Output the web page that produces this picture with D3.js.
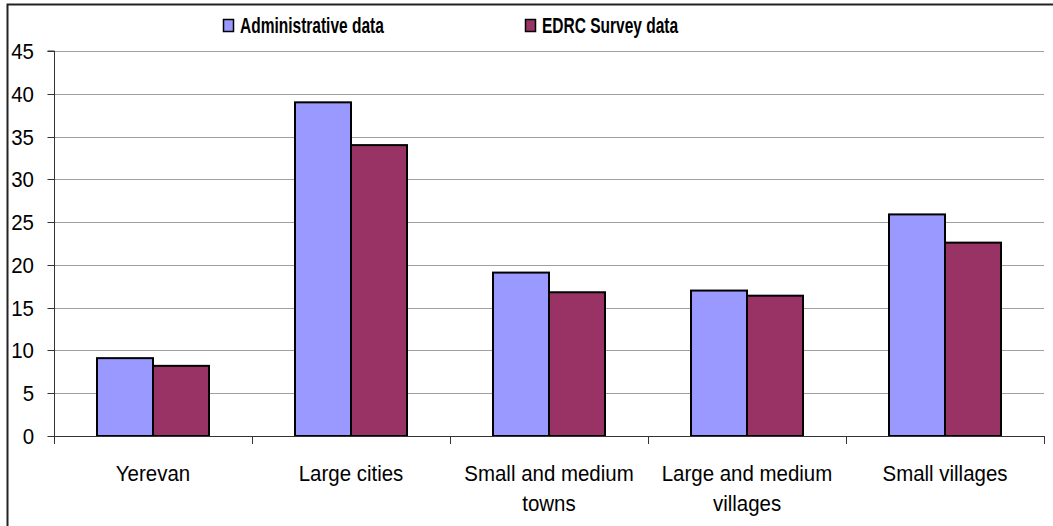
<!DOCTYPE html>
<html>
<head>
<meta charset="utf-8">
<script src="https://cdn.jsdelivr.net/npm/d3@7"></script>
<style>
  html, body { margin: 0; padding: 0; background: #fff; }
  svg { display: block; }
  text { font-family: "Liberation Sans", Arial, sans-serif; fill: #000; }
</style>
</head>
<body>
<svg id="chart" width="1053" height="526"></svg>
<script>
const categories = [["Yerevan"], ["Large cities"], ["Small and medium", "towns"], ["Large and medium", "villages"], ["Small villages"]];
const seriesNames = ["Administrative data", "EDRC Survey data"];
const adminValues = [9.1, 39.0, 19.1, 17.0, 25.9];
const surveyValues = [8.2, 34.0, 16.8, 16.4, 22.6];
const yTicks = [0, 5, 10, 15, 20, 25, 30, 35, 40, 45];
const colors = ["#9999ff", "#993366"];

const svg = d3.select("#chart");
const m = { left: 54, right: 1044, top: 51, bottom: 436 };
const SX = 0.93;     // horizontal condensing for regular text
const SXB = 0.705;   // horizontal condensing for bold legend text
const FS = 22;

// outer frame (only top and left edges fall inside the picture)
svg.append("rect").attr("x", 7.5).attr("y", 4.5).attr("width", 1100).attr("height", 600)
  .attr("fill", "none").attr("stroke", "#222").attr("stroke-width", 2);

const x0 = d3.scaleBand().domain(d3.range(categories.length)).range([m.left, m.right]).padding(0);
const x1 = d3.scaleBand().domain([0, 1]).range([0, x0.bandwidth()]).paddingOuter(0.768).paddingInner(0);
const y = d3.scaleLinear().domain([0, 45]).range([m.bottom, m.top]);

// gridlines
svg.append("g").selectAll("line").data(yTicks.filter(d => d > 0)).join("line")
  .attr("x1", m.left).attr("x2", m.right)
  .attr("y1", d => Math.round(y(d)) + 0.5).attr("y2", d => Math.round(y(d)) + 0.5)
  .attr("stroke", "#a0a0a0").attr("stroke-width", 1);

// bars
const data = categories.map((c, i) => [adminValues[i], surveyValues[i]]);
const groups = svg.append("g").selectAll("g").data(data).join("g")
  .attr("transform", (d, i) => `translate(${x0(i)},0)`);
groups.selectAll("rect").data(d => d.map((v, j) => ({ v, j }))).join("rect")
  .attr("x", d => x1(d.j))
  .attr("y", d => y(d.v))
  .attr("width", x1.bandwidth())
  .attr("height", d => y(0) - y(d.v))
  .attr("fill", d => colors[d.j])
  .attr("stroke", "#000").attr("stroke-width", 2);

// y axis
const yAxis = d3.axisLeft(y).tickValues(yTicks).tickSize(7).tickPadding(13).tickFormat(d3.format("d"));
const gy = svg.append("g").attr("transform", `translate(${m.left + 0.5},0)`).call(yAxis);
gy.select(".domain").attr("stroke", "#333").attr("d", `M-7,${m.top}H0V${m.bottom}`);
gy.selectAll(".tick line").attr("stroke", "#333");
gy.selectAll(".tick").attr("transform", d => `translate(0,${Math.round(y(d)) + 0.5})`);
gy.selectAll(".tick text")
  .attr("font-size", FS).attr("font-family", null).attr("fill", "#000")
  .attr("x", -20.5 / SX).attr("dy", "0.36em")
  .attr("transform", `scale(${SX},1)`);

// x axis
const xTickPos = d3.range(categories.length + 1).map(i => m.left + i * x0.bandwidth());
const gx = svg.append("g");
gx.append("line").attr("x1", m.left).attr("x2", m.right)
  .attr("y1", m.bottom + 0.5).attr("y2", m.bottom + 0.5).attr("stroke", "#333");
gx.selectAll("line.t").data(xTickPos).join("line").attr("class", "t")
  .attr("x1", d => Math.round(d) + 0.5).attr("x2", d => Math.round(d) + 0.5)
  .attr("y1", m.bottom).attr("y2", m.bottom + 8).attr("stroke", "#333");
gx.selectAll("text").data(categories).join("text")
  .attr("transform", (d, i) => `translate(${x0(i) + x0.bandwidth() / 2},481) scale(${SX},1)`)
  .attr("text-anchor", "middle").attr("font-size", FS)
  .selectAll("tspan").data(d => d).join("tspan")
  .attr("x", 0)
  .attr("dy", (d, i) => i === 0 ? 0 : 30)
  .text(d => d);

// legend
const legendX = [223, 525];
const lg = svg.append("g").selectAll("g").data(seriesNames).join("g")
  .attr("transform", (d, i) => `translate(${legendX[i]},0)`);
lg.append("rect").attr("x", 0.5).attr("y", 19.5).attr("width", 10).attr("height", 12)
  .attr("fill", (d, i) => colors[i]).attr("stroke", "#000").attr("stroke-width", 1.5);
lg.append("text")
  .attr("transform", `translate(17,33) scale(${SXB},1)`)
  .attr("font-size", FS).attr("font-weight", "bold")
  .text(d => d);
</script>
</body>
</html>
